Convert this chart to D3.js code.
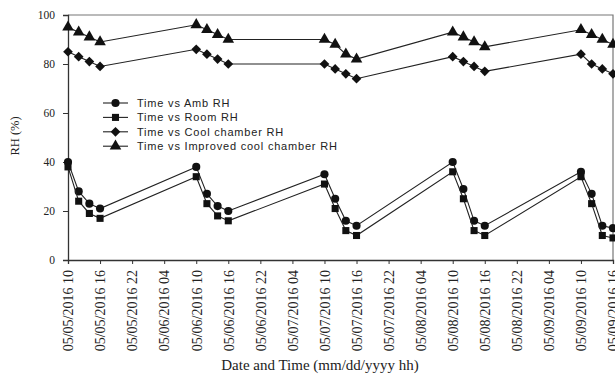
<!DOCTYPE html>
<html>
<head>
<meta charset="utf-8">
<script src="https://cdn.jsdelivr.net/npm/d3@7"></script>
<style>
  body { margin: 0; background: #fff; }
</style>
</head>
<body>
<svg width="615" height="377"></svg>
<script>
// sampling times (10, 12, 14, 16 h each day)
var times = [
  "2016-05-05 10", "2016-05-05 12", "2016-05-05 14", "2016-05-05 16",
  "2016-05-06 10", "2016-05-06 12", "2016-05-06 14", "2016-05-06 16",
  "2016-05-07 10", "2016-05-07 12", "2016-05-07 14", "2016-05-07 16",
  "2016-05-08 10", "2016-05-08 12", "2016-05-08 14", "2016-05-08 16",
  "2016-05-09 10", "2016-05-09 12", "2016-05-09 14", "2016-05-09 16"
];

var ambRH      = [40, 28, 23, 21,  38, 27, 22, 20,  35, 25, 16, 14,  40, 29, 16, 14,  36, 27, 14, 13];
var roomRH     = [38, 24, 19, 17,  34, 23, 18, 16,  31, 21, 12, 10,  36, 25, 12, 10,  34, 23, 10, 9];
var coolRH     = [85, 83, 81, 79,  86, 84, 82, 80,  80, 78, 76, 74,  83, 81, 79, 77,  84, 80, 78, 76];
var improvedRH = [95, 93, 91, 89,  96, 94, 92, 90,  90, 88, 84, 82,  93, 91, 89, 87,  94, 92, 90, 88];

var seriesNames = ["Time vs Amb RH", "Time vs Room RH", "Time vs Cool chamber RH", "Time vs Improved cool chamber RH"];
var seriesValues = [ambRH, roomRH, coolRH, improvedRH];
var seriesSymbols = [d3.symbolCircle, d3.symbolSquare, d3.symbolDiamond2, d3.symbolTriangle];
var symbolSizes = [52, 50, 60, 58];

var yTicks = [0, 20, 40, 60, 80, 100];

var parse = d3.utcParse("%Y-%m-%d %H");
var fmt = d3.utcFormat("%m/%d/%Y %H");
var dates = times.map(parse);

var serif = "'Liberation Serif', 'Times New Roman', serif";

var svg = d3.select("svg");
var margin = {left: 68, right: 2, top: 15, bottom: 117};
var width = 615, height = 377;

var x = d3.scaleUtc()
  .domain([parse("2016-05-05 10"), parse("2016-05-09 16")])
  .range([margin.left, width - margin.right]);

var y = d3.scaleLinear()
  .domain([0, 100])
  .range([height - margin.bottom, margin.top]);

// frame (top and right)
svg.append("path")
  .attr("d", "M" + x.range()[0] + "," + y(100) + "H" + x.range()[1] + "V" + y(0))
  .attr("fill", "none")
  .attr("stroke", "#777")
  .attr("stroke-width", 1.2);

var xTicks = d3.utcHour.range(x.domain()[0], d3.utcHour.offset(x.domain()[1], 1), 6);

var xAxis = svg.append("g")
  .attr("transform", "translate(0," + y(0) + ")")
  .call(d3.axisBottom(x).tickValues(xTicks).tickFormat(fmt).tickSize(4));
xAxis.selectAll("text")
  .attr("transform", "rotate(-90)")
  .attr("text-anchor", "end")
  .attr("x", -10)
  .attr("y", 0)
  .attr("dy", "0.34em")
  .style("font-family", serif)
  .style("font-size", "14px")
  .attr("fill", "#222");

var yAxis = svg.append("g")
  .attr("transform", "translate(" + x.range()[0] + ",0)")
  .call(d3.axisLeft(y).tickValues(yTicks).tickSize(5).tickPadding(8));
yAxis.selectAll("text")
  .style("font-family", serif)
  .style("font-size", "11.5px")
  .attr("fill", "#222");

svg.selectAll(".domain").attr("stroke", "#333").attr("stroke-width", 1.3);
svg.selectAll(".tick line").attr("stroke", "#333");

// axis titles
svg.append("text")
  .attr("x", 320).attr("y", 370)
  .attr("text-anchor", "middle")
  .style("font-family", serif)
  .style("font-size", "15px")
  .attr("fill", "#222")
  .text("Date and Time (mm/dd/yyyy hh)");

svg.append("text")
  .attr("transform", "translate(19,136) rotate(-90)")
  .attr("text-anchor", "middle")
  .style("font-family", serif)
  .style("font-size", "12.5px")
  .attr("fill", "#222")
  .text("RH (%)");

var line = d3.line()
  .x(function(d, i) { return x(dates[i]); })
  .y(function(d) { return y(d); });

var plot = svg.append("g");

seriesValues.forEach(function(vals, k) {
  plot.append("path")
    .datum(vals)
    .attr("d", line)
    .attr("fill", "none")
    .attr("stroke", "#222")
    .attr("stroke-width", 1.1);

  plot.selectAll(".pt" + k)
    .data(vals)
    .enter().append("path")
    .attr("class", "pt" + k)
    .attr("d", d3.symbol().type(seriesSymbols[k]).size(symbolSizes[k]))
    .attr("transform", function(d, i) { return "translate(" + x(dates[i]) + "," + y(d) + ")"; })
    .attr("fill", "#111");
});

// legend
var legend = svg.append("g");
seriesNames.forEach(function(name, k) {
  var ly = 103 + k * 14.4;
  legend.append("line")
    .attr("x1", 103).attr("x2", 128)
    .attr("y1", ly).attr("y2", ly)
    .attr("stroke", "#222").attr("stroke-width", 1.1);
  legend.append("path")
    .attr("d", d3.symbol().type(seriesSymbols[k]).size(symbolSizes[k]))
    .attr("transform", "translate(115.5," + ly + ")")
    .attr("fill", "#111");
  legend.append("text")
    .attr("x", 137).attr("y", ly)
    .attr("dy", "0.36em")
    .style("font-family", "'Liberation Sans', Arial, sans-serif")
    .style("font-size", "11px")
    .style("letter-spacing", "0.8px")
    .attr("fill", "#222")
    .text(name);
});
</script>
</body>
</html>
